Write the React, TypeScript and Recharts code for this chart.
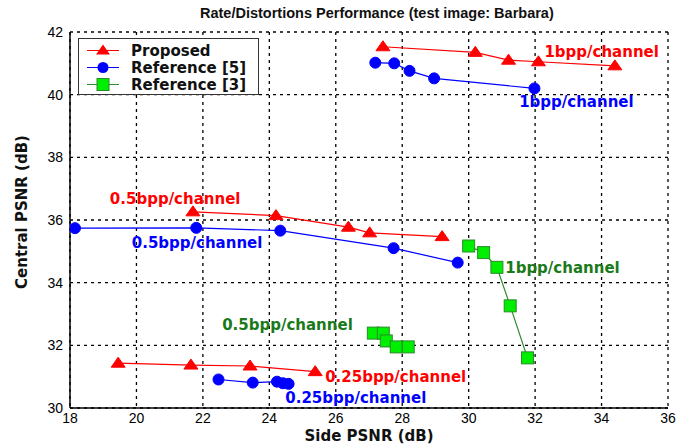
import React from 'react';
import { LineChart, Line, XAxis, YAxis, CartesianGrid, ReferenceDot } from 'recharts';

// Side PSNR (x) vs Central PSNR (y), one array per rate curve
const proposed1bpp = [
  { x: 27.42, y: 41.53 }, { x: 30.2, y: 41.35 }, { x: 31.2, y: 41.1 }, { x: 32.1, y: 41.05 }, { x: 34.4, y: 40.92 },
];
const proposed05bpp = [
  { x: 21.7, y: 36.26 }, { x: 24.2, y: 36.14 }, { x: 26.38, y: 35.77 }, { x: 27.02, y: 35.59 }, { x: 29.2, y: 35.47 },
];
const proposed025bpp = [
  { x: 19.45, y: 31.43 }, { x: 21.64, y: 31.37 }, { x: 23.42, y: 31.34 }, { x: 25.38, y: 31.16 },
];
const ref5_1bpp = [
  { x: 27.19, y: 41.02 }, { x: 27.76, y: 41.0 }, { x: 28.22, y: 40.76 }, { x: 28.96, y: 40.52 }, { x: 31.98, y: 40.2 },
];
const ref5_05bpp = [
  { x: 18.15, y: 35.74 }, { x: 21.8, y: 35.75 }, { x: 24.33, y: 35.66 }, { x: 27.74, y: 35.1 }, { x: 29.67, y: 34.64 },
];
const ref5_025bpp = [
  { x: 22.47, y: 30.91 }, { x: 23.5, y: 30.81 }, { x: 24.23, y: 30.84 }, { x: 24.41, y: 30.79 }, { x: 24.58, y: 30.77 },
];
const ref3_1bpp = [
  { x: 30.0, y: 35.17 }, { x: 30.45, y: 34.96 }, { x: 30.85, y: 34.49 }, { x: 31.25, y: 33.26 }, { x: 31.77, y: 31.6 },
];
const ref3_05bpp = [
  { x: 27.13, y: 32.39 }, { x: 27.43, y: 32.39 }, { x: 27.52, y: 32.14 }, { x: 27.82, y: 31.95 }, { x: 28.18, y: 31.95 },
];

const xTicks = [18, 20, 22, 24, 26, 28, 30, 32, 34, 36];
const yTicks = [30, 32, 34, 36, 38, 40, 42];

const RED = '#ff0000';
const BLUE = '#0000ff';
const GREEN_LINE = '#2a8a2a';
const GREEN_FILL = '#00ee00';
const GREEN_TEXT = '#1a7a1a';

// rate labels: where the text starts (data coords)
const notes = [
  { x: 32.28, y: 41.37, text: '1bpp/channel', color: RED },
  { x: 31.52, y: 39.78, text: '1bpp/channel', color: BLUE },
  { x: 19.2, y: 36.67, text: '0.5bpp/channel', color: RED },
  { x: 19.86, y: 35.27, text: '0.5bpp/channel', color: BLUE },
  { x: 31.1, y: 34.47, text: '1bpp/channel', color: GREEN_TEXT },
  { x: 22.58, y: 32.65, text: '0.5bpp/channel', color: GREEN_TEXT },
  { x: 25.68, y: 31.0, text: '0.25bpp/channel', color: RED },
  { x: 24.48, y: 30.32, text: '0.25bpp/channel', color: BLUE },
];

const triDot = (props: any) => {
  const { cx, cy, index } = props;
  return (
    <polygon key={index} points={`${cx},${cy - 6} ${cx - 7},${cy + 4} ${cx + 7},${cy + 4}`} fill={RED} stroke={RED} />
  );
};
const circDot = (props: any) => {
  const { cx, cy, index } = props;
  return <circle key={index} cx={cx} cy={cy} r={5.5} fill={BLUE} stroke={BLUE} />;
};
const sqDot = (props: any) => {
  const { cx, cy, index } = props;
  return <rect key={index} x={cx - 6} y={cy - 6} width={12} height={12} fill={GREEN_FILL} stroke={GREEN_LINE} />;
};

const tickFont = { fontSize: 14, fill: '#000', fontFamily: 'Liberation Sans, Arial, sans-serif' };
const boldFont = 'DejaVu Sans, Verdana, sans-serif';

function LegendBox() {
  const rows = [
    { name: 'Proposed', color: RED, kind: 'tri' },
    { name: 'Reference [5]', color: BLUE, kind: 'circ' },
    { name: 'Reference [3]', color: GREEN_LINE, kind: 'sq' },
  ];
  return (
    <div
      style={{
        position: 'absolute', left: 78, top: 38, width: 181, height: 57,
        background: '#fff', border: '1.5px solid #333', boxSizing: 'border-box',
      }}
    >
      {rows.map((r, i) => (
        <div key={r.name} style={{ position: 'absolute', left: 0, top: 3 + i * 17, height: 17, display: 'flex', alignItems: 'center' }}>
          <svg width={50} height={17}>
            <line x1={8} x2={40} y1={8.5} y2={8.5} stroke={r.color} strokeWidth={1} />
            {r.kind === 'tri' && <polygon points="24,2.5 17,12.5 31,12.5" fill={RED} />}
            {r.kind === 'circ' && <circle cx={24} cy={8.5} r={5.5} fill={BLUE} />}
            {r.kind === 'sq' && <rect x={18} y={2.5} width={12} height={12} fill={GREEN_FILL} stroke={GREEN_LINE} />}
          </svg>
          <span style={{ fontFamily: boldFont, fontWeight: 'bold', fontSize: 15, color: '#111', marginLeft: 2 }}>{r.name}</span>
        </div>
      ))}
    </div>
  );
}

export default function App() {
  return (
    <div style={{ position: 'absolute', left: 0, top: 0, width: 695, height: 447, background: '#fff' }}>
      <LineChart width={695} height={447} margin={{ top: 32, right: 27, bottom: 9, left: 25 }}>
        <CartesianGrid stroke="#000" strokeDasharray="3 4" strokeWidth={1.3} />
        <XAxis
          type="number" dataKey="x" domain={[18, 36]} ticks={xTicks} allowDataOverflow
          height={30} tickSize={0} tickMargin={5} tick={tickFont}
          axisLine={{ stroke: '#000', strokeWidth: 1.5 }} tickLine={false}
        />
        <XAxis xAxisId="top" orientation="top" type="number" domain={[18, 36]} height={0}
          tick={false} tickLine={false} axisLine={{ stroke: '#000', strokeWidth: 1.5 }} />
        <YAxis
          type="number" dataKey="y" domain={[30, 42]} ticks={yTicks} allowDataOverflow
          width={45} tickSize={0} tickMargin={7} tick={tickFont}
          axisLine={{ stroke: '#000', strokeWidth: 1.5 }} tickLine={false}
        />
        <YAxis yAxisId="right" orientation="right" type="number" domain={[30, 42]} width={0}
          tick={false} tickLine={false} axisLine={{ stroke: '#000', strokeWidth: 1.5 }} />

        <Line data={proposed1bpp} dataKey="y" stroke={RED} strokeWidth={1.2} dot={triDot} isAnimationActive={false} />
        <Line data={proposed05bpp} dataKey="y" stroke={RED} strokeWidth={1.2} dot={triDot} isAnimationActive={false} />
        <Line data={proposed025bpp} dataKey="y" stroke={RED} strokeWidth={1.2} dot={triDot} isAnimationActive={false} />
        <Line data={ref5_1bpp} dataKey="y" stroke={BLUE} strokeWidth={1.2} dot={circDot} isAnimationActive={false} />
        <Line data={ref5_05bpp} dataKey="y" stroke={BLUE} strokeWidth={1.2} dot={circDot} isAnimationActive={false} />
        <Line data={ref5_025bpp} dataKey="y" stroke={BLUE} strokeWidth={1.2} dot={circDot} isAnimationActive={false} />
        <Line data={ref3_1bpp} dataKey="y" stroke={GREEN_LINE} strokeWidth={1.2} dot={sqDot} isAnimationActive={false} />
        <Line data={ref3_05bpp} dataKey="y" stroke={GREEN_LINE} strokeWidth={1.2} dot={sqDot} isAnimationActive={false} />

        {notes.map((n, i) => (
          <ReferenceDot
            key={i} x={n.x} y={n.y} r={0}
            shape={(p: any) => (
              <text x={p.cx} y={p.cy} dominantBaseline="central" textAnchor="start"
                fill={n.color} fontFamily={boldFont} fontWeight="bold" fontSize={15}>
                {n.text}
              </text>
            )}
          />
        ))}
      </LineChart>

      <div style={{ position: 'absolute', left: 200, top: 5, whiteSpace: 'nowrap',
        fontFamily: 'Liberation Sans, Arial, sans-serif', fontWeight: 'bold', fontSize: 14.5, color: '#111' }}>
        Rate/Distortions Performance (test image: Barbara)
      </div>
      <div style={{ position: 'absolute', left: 70, width: 598, top: 427, textAlign: 'center',
        fontFamily: boldFont, fontWeight: 'bold', fontSize: 15, color: '#111' }}>
        Side PSNR (dB)
      </div>
      <div style={{ position: 'absolute', left: 22, top: 212, transform: 'translate(-50%, -50%) rotate(-90deg)', whiteSpace: 'nowrap',
        fontFamily: boldFont, fontWeight: 'bold', fontSize: 15, color: '#111' }}>
        Central PSNR (dB)
      </div>
      <LegendBox />
    </div>
  );
}
